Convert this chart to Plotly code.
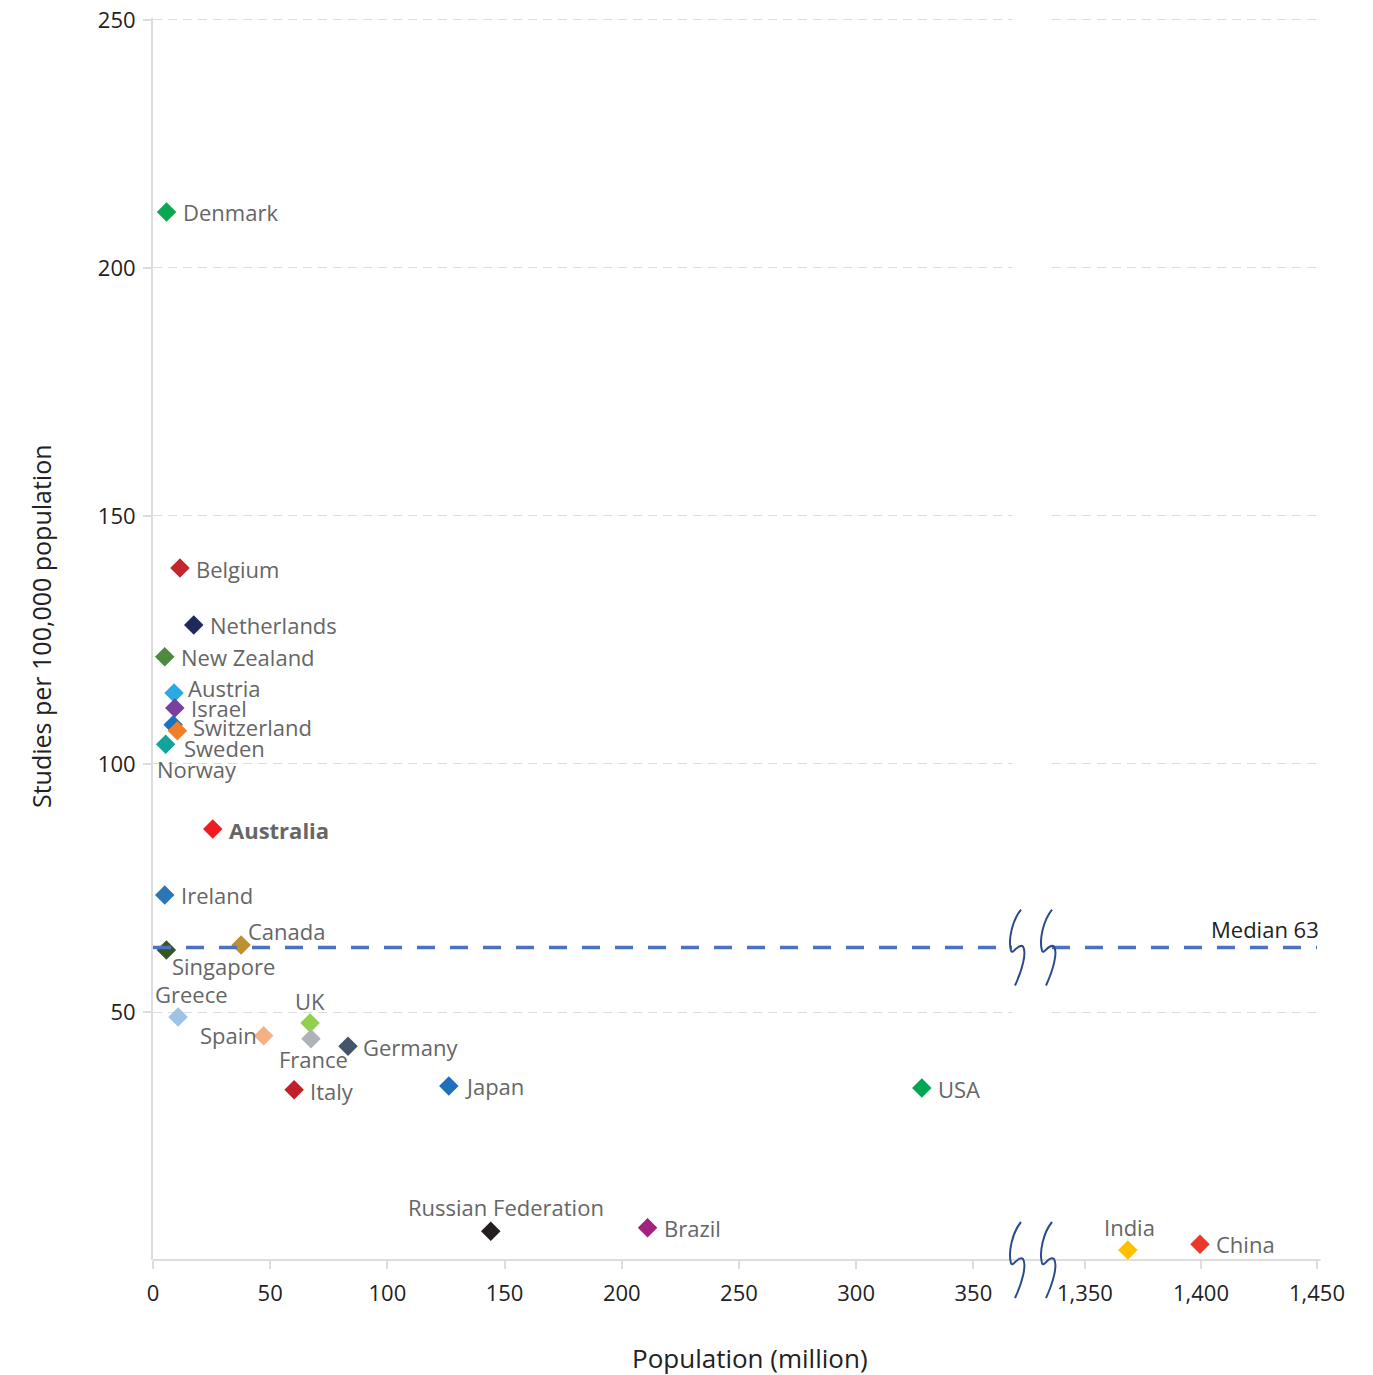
import plotly.graph_objects as go

# ---- data -------------------------------------------------------------
countries = ["Denmark", "Belgium", "Netherlands", "New Zealand", "Austria", "Israel",
             "Switzerland", "Sweden", "Norway", "Australia", "Ireland", "Canada",
             "Singapore", "Greece", "Spain", "UK", "France", "Germany", "Italy",
             "Japan", "USA", "Russian Federation", "Brazil", "India", "China"]
population_m = [5.8, 11.5, 17.4, 5.0, 9.0, 9.3, 8.6, 10.4, 5.4, 25.5, 5.0, 37.6,
                5.7, 10.7, 47.2, 67.0, 67.4, 83.2, 60.2, 126.2, 328.0, 144.1,
                211.0, 1368.5, 1399.6]
studies_per_100k = [211.3, 139.5, 128.0, 121.6, 114.3, 111.3, 107.9, 106.7, 104.0,
                    86.9, 73.6, 63.5, 62.5, 49.0, 45.2, 47.8, 44.6, 43.1, 34.3,
                    35.1, 34.7, 5.8, 6.5, 2.0, 3.2]
colors = ["#0aa84f", "#c1272d", "#1f2a5c", "#4e8a3e", "#29abe2", "#7b3f9e",
          "#1a73c1", "#f07f2a", "#14a39a", "#ed1c24", "#2e75b6", "#bf9030",
          "#375623", "#9dc3e6", "#f4b183", "#92d050", "#b0b3b6", "#44546a",
          "#c1202b", "#1f6fbf", "#00a651", "#231f20", "#a3217f", "#ffc000",
          "#e8392c"]
median_value = 63
highlight = "Australia"

left_ticks = [0, 50, 100, 150, 200, 250, 300, 350]
right_ticks = [1350, 1400, 1450]
y_ticks = [50, 100, 150, 200, 250]

# ---- layout constants ---------------------------------------------------
W, H = 1373, 1375
ML, MR, MT, MB = 153, 56, 18, 115
PLOT_W = W - ML - MR
PLOT_H = H - MT - MB
Y_RANGE = [0, 250.4]
LEFT_RANGE = [0, 366.5]
RIGHT_RANGE = [1335.8, 1450]
LEFT_DOMAIN = [0, 0.738]
RIGHT_DOMAIN = [0.7723, 1]
FONT = "Open Sans, Lato, sans-serif"
LABEL_GREY = "#666666"
BREAK_BLUE = "#2b4c8c"
MEDIAN_BLUE = "#4a72c0"
LABEL_SIZE = 22

# label placement: (xanchor, dx px, dy px downward)
label_pos = {
    "Denmark": ("left", 15, 0), "Belgium": ("left", 15, 1),
    "Netherlands": ("left", 15, 0), "New Zealand": ("left", 15, 0),
    "Austria": ("left", 13, -5), "Israel": ("left", 15, 0),
    "Switzerland": ("left", 19, 2), "Sweden": ("left", 6, 17),
    "Norway": ("left", -10, 25), "Australia": ("left", 15, 1),
    "Ireland": ("left", 15, 0), "Canada": ("left", 6, -14),
    "Singapore": ("left", 5, 16), "Greece": ("left", -24, -23),
    "Spain": ("right", -6, -1), "UK": ("center", 0, -22),
    "France": ("center", 3, 20), "Germany": ("left", 14, 1),
    "Italy": ("left", 15, 1), "Japan": ("left", 15, 0),
    "USA": ("left", 15, 1), "Russian Federation": ("center", 15, -24),
    "Brazil": ("left", 15, 0), "India": ("center", 2, -23),
    "China": ("left", 15, 0),
}

fig = go.Figure()

is_right = [p > 1000 for p in population_m]
for side, xa in [(False, "x"), (True, "x2")]:
    idx = [i for i in range(len(countries)) if is_right[i] == side]
    fig.add_trace(go.Scatter(
        x=[population_m[i] for i in idx],
        y=[studies_per_100k[i] for i in idx],
        mode="markers",
        marker=dict(symbol="diamond", size=15, color=[colors[i] for i in idx],
                    line=dict(width=0)),
        text=[countries[i] for i in idx],
        xaxis=xa, yaxis="y" if xa == "x" else "y2",
        showlegend=False, hoverinfo="text",
    ))

# median line, drawn in both panels
fig.add_trace(go.Scatter(x=LEFT_RANGE, y=[median_value] * 2, mode="lines",
                         line=dict(color=MEDIAN_BLUE, width=3.5, dash="18px,15px"),
                         xaxis="x", yaxis="y", showlegend=False, hoverinfo="skip"))
fig.add_trace(go.Scatter(x=RIGHT_RANGE, y=[median_value] * 2, mode="lines",
                         line=dict(color=MEDIAN_BLUE, width=3.5, dash="18px,15px"),
                         xaxis="x2", yaxis="y2", showlegend=False, hoverinfo="skip"))

annotations = []
for i, name in enumerate(countries):
    anchor, dx, dy = label_pos[name]
    bold = name == highlight
    annotations.append(dict(
        x=population_m[i], y=studies_per_100k[i],
        xref="x2" if is_right[i] else "x", yref="y2" if is_right[i] else "y",
        text=f"<b>{name}</b>" if bold else name, showarrow=False,
        xanchor=anchor, yanchor="middle", xshift=dx, yshift=-dy, borderpad=0,
        font=dict(family=FONT, size=LABEL_SIZE, color=LABEL_GREY),
    ))

annotations.append(dict(
    x=1450, y=median_value, xref="x2", yref="y2", text=f"Median {median_value}",
    showarrow=False, xanchor="right", yanchor="bottom", xshift=3, yshift=3,
    borderpad=0, font=dict(family=FONT, size=22, color="#222222")))


def px_to_paper(px, py):
    return (px - ML) / PLOT_W, (MT + PLOT_H - py) / PLOT_H


tx, ty = px_to_paper(750, 1358)
annotations.append(dict(
    x=tx, y=ty, xref="paper", yref="paper",
    text="Population (million)", showarrow=False, xanchor="center", yanchor="middle",
    font=dict(family=FONT, size=26, color="#222222")))
tx, ty = px_to_paper(41, 626)
annotations.append(dict(
    x=tx, y=ty, xref="paper", yref="paper",
    text="Studies per 100,000 population", showarrow=False, textangle=-90,
    xanchor="center", yanchor="middle",
    font=dict(family=FONT, size=25, color="#222222")))


def squiggle(cx, cy):
    pts = [(6, -38), (-3, -27), (-7, -7), (-4, 3), (-2, 8), (3, -5), (8, -1),
           (12, 5), (7, 23), (0, 38)]
    conv = [px_to_paper(cx + a, cy + b) for a, b in pts]
    s = "M {:.5f},{:.5f}".format(*conv[0])
    for k in range(1, len(conv), 3):
        s += " C " + " ".join("{:.5f},{:.5f}".format(*c) for c in conv[k:k + 3])
    return s


shapes = [dict(type="line", xref="paper", yref="paper", x0=0, x1=1.003, y0=0, y1=0,
               line=dict(color="#dddddd", width=2), layer="below")]
median_py = MT + PLOT_H - median_value * PLOT_H / Y_RANGE[1]
for cy in (median_py, MT + PLOT_H):
    for cx in (1015, 1046):
        shapes.append(dict(type="path", path=squiggle(cx, cy), xref="paper", yref="paper",
                           line=dict(color=BREAK_BLUE, width=2)))

grid = dict(showgrid=True, gridcolor="#dddddd", griddash="9px,6px", gridwidth=1)
tickfont = dict(family=FONT, size=22, color="#222222")

fig.update_layout(
    width=W, height=H, margin=dict(l=ML, r=MR, t=MT, b=MB),
    plot_bgcolor="white", paper_bgcolor="white",
    xaxis=dict(domain=LEFT_DOMAIN, range=LEFT_RANGE, tickvals=left_ticks,
               showgrid=False, zeroline=False, showline=False, ticks="outside",
               ticklen=8, tickwidth=2, tickcolor="#dddddd", tickfont=tickfont,
               ticklabelstandoff=6, anchor="y", automargin=False),
    xaxis2=dict(domain=RIGHT_DOMAIN, range=RIGHT_RANGE, tickvals=right_ticks,
                tickformat=",", showgrid=False, zeroline=False, showline=False,
                ticks="outside", ticklen=8, tickwidth=2, tickcolor="#dddddd",
                tickfont=tickfont, ticklabelstandoff=6, anchor="y2", automargin=False),
    yaxis=dict(range=Y_RANGE, tickvals=y_ticks, zeroline=False, showline=True,
               linecolor="#dddddd", linewidth=2, ticks="outside", ticklen=8,
               tickwidth=2, tickcolor="#dddddd", tickfont=tickfont, anchor="x",
               ticklabelstandoff=3, automargin=False, **grid),
    yaxis2=dict(range=Y_RANGE, tickvals=y_ticks, matches="y", zeroline=False,
                showline=False, showticklabels=False, ticks="", anchor="x2",
                automargin=False, **grid),
    annotations=annotations, shapes=shapes,
)

fig.write_html("out.html")
